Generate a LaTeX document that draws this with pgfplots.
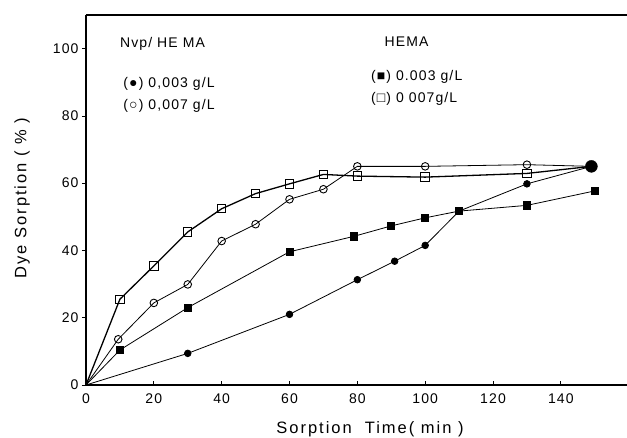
\documentclass[border=0pt]{standalone}
\usepackage{fontspec}
\setmainfont{Liberation Sans}[LetterSpace=8]
\newfontfamily\labfont{Liberation Sans}[LetterSpace=12]
\usepackage{pgfplots}
\pgfplotsset{compat=1.18}

% time (min) vs dye sorption (%)
\pgfplotstableread{
x y
0 0
10 25.5
20 35.4
30 45.5
40 52.4
50 56.9
60 59.8
70 62.6
80 62.1
100 61.8
130 62.9
149 65
}\hemaB
\pgfplotstableread{
x y
0 0
9.5 13.6
20 24.4
30 29.9
40 42.8
50 47.8
60 55.2
70 58.2
80 65.0
100 65.0
130 65.5
149 65
}\nvpB
\pgfplotstableread{
x y
0 0
10 10.4
30 23.0
60 39.6
79 44.2
90 47.3
100 49.7
110 51.7
130 53.4
150 57.7
}\hemaA
\pgfplotstableread{
x y
0 0
30 9.4
60 21.0
80 31.3
91 36.8
100 41.5
110 51.7
130 59.8
149 65
}\nvpA

\begin{document}
\begin{tikzpicture}[font=\fontsize{14}{16}\selectfont]
\path[use as bounding box] (-86pt,-53pt) rectangle (541pt,385pt);
\begin{axis}[
  scale only axis, width=541pt, height=370pt,
  xmin=0, xmax=159.5, ymin=0, ymax=110,
  axis x line*=bottom, axis y line*=left,
  axis line style={line width=1.2pt, -},
  xtick={0,20,...,140}, ytick={0,20,...,100},
  xtick align=inside, ytick align=outside,
  major tick length=4pt,
  tick style={line width=0.8pt, black},
  /pgf/number format/assume math mode=true,
  xticklabel style={yshift=-5pt},
  xlabel={Sorption\ \ Time( min )}, ylabel={Dye Sorption ( \% )},
  label style={font=\labfont\fontsize{16.5}{18}\selectfont},
  xlabel style={at={(axis description cs:0.525,0)}, anchor=north, yshift=-33pt},
  ylabel style={at={(axis description cs:-0.1183,0.505)}, anchor=center},
  clip=false,
]
\draw[line width=1.2pt] (rel axis cs:0,1) -- (rel axis cs:1,1);
\addplot[black, line width=1.3pt, mark=square, mark size=4.2pt, mark indices={2,3,4,5,6,7,8,9,10,11}, mark options={fill=white, line width=1pt}] table {\hemaB};
\addplot[black, line width=0.8pt, mark=o, mark size=3.8pt, mark indices={2,3,4,5,6,7,8,9,10,11}, mark options={fill=white, line width=0.9pt}] table {\nvpB};
\addplot[black, line width=0.8pt, mark=square*, mark size=3.6pt, mark indices={2,3,4,5,6,7,8,9,10}] table {\hemaA};
\addplot[black, line width=0.8pt, mark=*, mark size=3.3pt, mark indices={2,3,4,5,6,7,8}] table {\nvpA};
\addplot[black, only marks, mark=*, mark size=6pt] coordinates {(149,65)};
\node[anchor=west] at (axis cs:9,101.5) {Nvp/ HE MA};
\node[anchor=west] at (axis cs:10,89.5) {(●)\ 0,003 g/L};
\node[anchor=west] at (axis cs:10,83) {(○)\ 0,007 g/L};
\node[anchor=west] at (axis cs:87,102) {HEMA};
\node[anchor=west] at (axis cs:83,91.5) {(■) 0.003 g/L};
\node[anchor=west] at (axis cs:83,85.2) {(□) 0 007g/L};
\end{axis}
\end{tikzpicture}
\end{document}
